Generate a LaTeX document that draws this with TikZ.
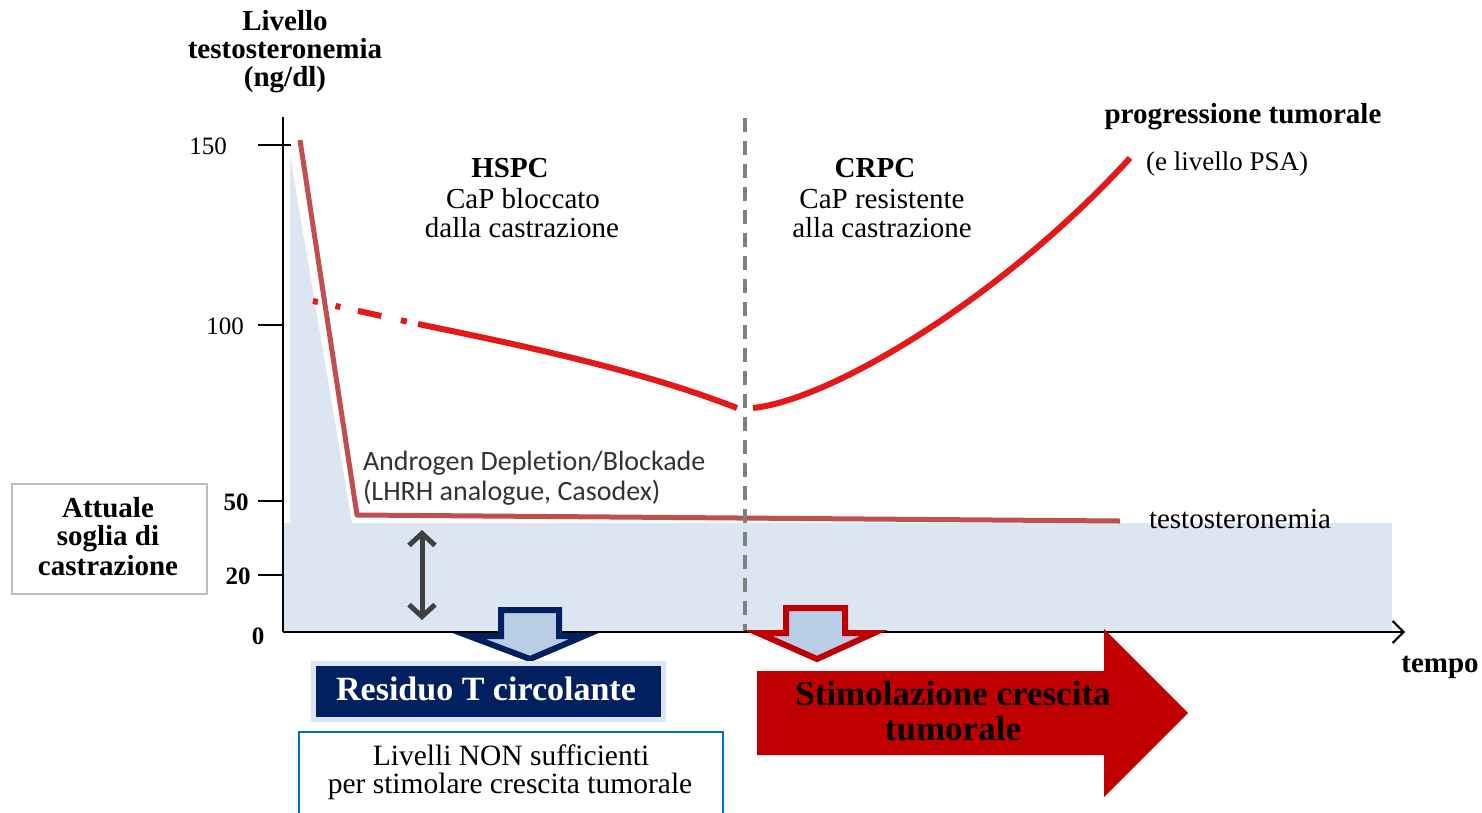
\documentclass[tikz,border=0pt]{standalone}
\usepackage{fontspec}
\setmainfont{Liberation Serif}
\newfontfamily\calibfont[Ligatures=NoCommon]{Carlito}
\usetikzlibrary{arrows.meta}
\definecolor{regblue}{HTML}{DCE6F2}
\definecolor{arrfill}{HTML}{B9CDE5}
\definecolor{navy}{HTML}{002060}
\definecolor{darkred}{HTML}{C00000}
\definecolor{linered}{RGB}{192,80,77}
\definecolor{brightred}{RGB}{228,24,24}
\definecolor{dgray}{HTML}{404040}
\definecolor{boxgray}{HTML}{BFBFBF}
\definecolor{boxblue}{HTML}{0070C0}
\definecolor{txtgray}{HTML}{333333}
\newcommand\fsz[1]{\fontsize{#1}{#1}\selectfont}
\begin{document}
\begin{tikzpicture}[x=1pt,y=-1pt,
  every node/.style={inner sep=0pt, outer sep=0pt},
  txt/.style={font=\fsz{29}, anchor=base},
  btxt/.style={font=\fsz{29}\bfseries, anchor=base},
  num/.style={font=\fsz{25}},
  bnum/.style={font=\fsz{25}\bfseries},
  calib/.style={font=\fsz{28}\calibfont, text=txtgray, anchor=base west},
  axisline/.style={line width=2pt, black},
  bredline/.style={line width=6pt, brightred},
  dredline/.style={line width=5pt, linered, line join=round},
  phase/.style={line width=3.5pt, gray, dash pattern=on 14pt off 9pt},
  blockarrow/.style={line width=6pt, line join=miter, fill=arrfill},
  dblarrow/.style={line width=5pt, dgray,
    {Straight Barb[length=12pt,width=26pt,line width=5pt]}-{Straight Barb[length=12pt,width=26pt,line width=5pt]}}
]
\clip (0,0) rectangle (1482,812);
\fill[white] (0,0) rectangle (1482,812);

% coordinates
\coordinate (origin) at (283,632);
\coordinate (ytop) at (283,117);
\coordinate (xend) at (1405,632);
\coordinate (dtop) at (745,118);
\coordinate (dbot) at (745,632);
\coordinate (r0) at (300,140);
\coordinate (r1) at (357,515);
\coordinate (r2) at (1120,521);
\coordinate (b0) at (313,301);
\coordinate (b1) at (418,324);
\coordinate (b2) at (737,408);
\coordinate (b3) at (753,408);
\coordinate (b4) at (1130,158);
\coordinate (dtopA) at (422,530);
\coordinate (dbotA) at (422,620);

% shaded region
\fill[regblue] (290,155) -- (352,523) -- (1392,523) -- (1392,632) -- (283,632) -- (283,523) -- (290,523) -- cycle;

% bright red tumour curve
\draw[bredline, dash pattern=on 5pt off 18pt on 5pt off 18pt on 24pt off 20pt on 6pt off 20pt] (b0) -- (b1);
\draw[bredline] (b1) .. controls (520,345) and (640,370) .. (b2);
\draw[bredline] (b3) .. controls (830,400) and (1000,300) .. (b4);

% testosterone line
\draw[dredline] (r0) -- (r1) -- (r2);

% phase separator
\draw[phase] (dtop) -- (dbot);

% axes
\draw[axisline] (ytop) -- (origin);
\draw[axisline, -{Straight Barb[length=11pt,width=22pt,line width=2pt]}] (origin) -- (xend);
\draw[axisline] (258,145) -- (291,145);
\draw[axisline] (258,325) -- (283,325);
\draw[axisline] (258,501) -- (283,501);
\draw[axisline] (258,575) -- (283,575);
\node[num] (t150) at (208,146) {150};
\node[num] (t100) at (225,326) {100};
\node[bnum] (t50) at (236,502) {50};
\node[bnum] (t20) at (238,576) {20};
\node[bnum] (t0) at (258,636) {0};

% double arrow
\draw[dblarrow] (dtopA) -- (dbotA);

% block arrows
\draw[blockarrow, draw=navy] (501,610) -- (559,610) -- (559,636) -- (584,636) -- (530,659) -- (469,636) -- (501,636) -- cycle;
\draw[blockarrow, draw=darkred] (786,608) -- (845,608) -- (845,633) -- (874,633) -- (817,659) -- (758,633) -- (786,633) -- cycle;
\fill[darkred] (757,671) -- (1104,671) -- (1104,629) -- (1188,713) -- (1104,797) -- (1104,755) -- (757,755) -- cycle;

% axis title
\node[btxt] (yl1) at (285,30) {Livello};
\node[btxt] (yl2) at (285,58) {testosteronemia};
\node[btxt] (yl3) at (285,86) {(ng/dl)};

% phase labels
\node[btxt] (h1) at (510,177) {HSPC};
\node[txt] (h2) at (523,208) {CaP bloccato};
\node[txt] (h3) at (522,237) {dalla castrazione};
\node[btxt] (c1) at (875,177) {CRPC};
\node[txt] (c2) at (882,208) {CaP resistente};
\node[txt] (c3) at (882,237) {alla castrazione};

% right labels
\node[btxt] (prog) at (1243,123) {progressione tumorale};
\node[txt, font=\fsz{27}] (psa) at (1227,170) {(e livello PSA)};
\node[txt] (testo) at (1240,528) {testosteronemia};

% androgen label
\node[calib] (and1) at (363,470) {Androgen Depletion/Blockade};
\node[calib] (and2) at (363,500) {(LHRH analogue, Casodex)};

% soglia box
\node[draw=boxgray, line width=2pt, minimum width=195pt, minimum height=110pt] (soglia) at (109.5,539) {};
\node[btxt] (s1) at (108,517) {Attuale};
\node[btxt] (s2) at (108,545) {soglia di};
\node[btxt] (s3) at (108,575) {castrazione};

% residuo box
\node[fill=navy, draw=regblue, line width=5pt, minimum width=350pt, minimum height=56pt] (residuo) at (488.5,691.5) {};
\node[btxt, font=\fsz{34}\bfseries, text=white] (residuoT) at (486,700) {Residuo T circolante};

% livelli box
\node[draw=boxblue, line width=2pt, minimum width=424pt, minimum height=100pt] (livelli) at (511,782) {};
\node[txt, font=\fsz{29.5}] (l1) at (511,765) {Livelli NON sufficienti};
\node[txt, font=\fsz{29.5}] (l2) at (510,793) {per stimolare crescita tumorale};

% stimolazione text
\node[btxt, font=\fsz{35}\bfseries] (st1) at (953,705) {Stimolazione crescita};
\node[btxt, font=\fsz{35}\bfseries] (st2) at (953,740) {tumorale};

% time label
\node[btxt] (tempo) at (1440,672) {tempo};
\end{tikzpicture}
\end{document}
